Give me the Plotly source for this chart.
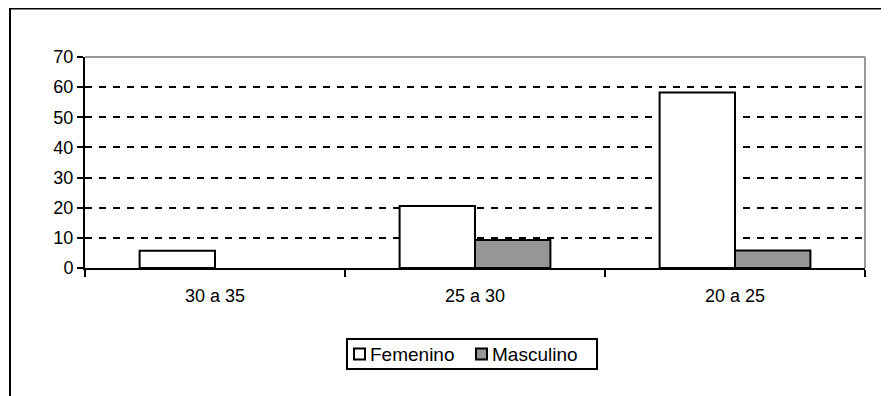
import plotly.graph_objects as go

categories = ["30 a 35", "25 a 30", "20 a 25"]
femenino = [5.7, 20.6, 58.2]
masculino = [0, 9.3, 5.8]
y_ticks = [0, 10, 20, 30, 40, 50, 60, 70]
series_names = ["Femenino", "Masculino"]
series_colors = ["white", "#969696"]

# page has an 8px body margin: work in reference page pixels, convert to figure pixels
OFF = 8
W, H = 889 - OFF, 396 - OFF
PL, PR, PT, PB = 85, 865, 57, 268  # plot area in page pixels
L, R, T, B = PL - OFF, W - (PR - OFF), PT - OFF, H - (PB - OFF)
pw, ph = PR - PL, PB - PT


def px_x(x):
    return (x - PL) / pw


def px_y(y):
    return (PB - y) / ph


fig = go.Figure()
fig.add_trace(go.Bar(name=series_names[0], x=categories, y=femenino, showlegend=False,
                     marker=dict(color=series_colors[0], line=dict(color="black", width=2))))
fig.add_trace(go.Bar(name=series_names[1], x=categories, y=masculino, showlegend=False,
                     marker=dict(color=series_colors[1],
                                 line=dict(color="black",
                                           width=[2 if v > 0 else 0 for v in masculino]))))

FAM = "Liberation Sans, Arial, sans-serif"
font = dict(family=FAM, size=18, color="black")
lfont = dict(family=FAM, size=19, color="black")

shapes = [
    # plot area top/right gray border
    dict(type="line", xref="paper", yref="paper", x0=0, x1=1, y0=1, y1=1,
         line=dict(color="#999999", width=2)),
    dict(type="line", xref="paper", yref="paper", x0=1, x1=1, y0=0, y1=1,
         line=dict(color="#999999", width=2)),
    # outer chart border
    dict(type="line", xref="paper", yref="paper", x0=px_x(10), x1=px_x(892),
         y0=px_y(8.5), y1=px_y(8.5), line=dict(color="black", width=2)),
    dict(type="line", xref="paper", yref="paper", x0=px_x(10), x1=px_x(10),
         y0=px_y(8), y1=px_y(400), line=dict(color="black", width=2)),
    dict(type="line", xref="paper", yref="paper", x0=px_x(884), x1=px_x(884),
         y0=px_y(8), y1=px_y(338), line=dict(color="black", width=2)),
    # legend box
    dict(type="rect", xref="paper", yref="paper", x0=px_x(347), x1=px_x(597),
         y0=px_y(339), y1=px_y(369), line=dict(color="black", width=2), fillcolor="white"),
    # legend swatches
    dict(type="rect", xref="paper", yref="paper", x0=px_x(354), x1=px_x(365),
         y0=px_y(348.5), y1=px_y(359.5), line=dict(color="black", width=2),
         fillcolor=series_colors[0]),
    dict(type="rect", xref="paper", yref="paper", x0=px_x(476), x1=px_x(487),
         y0=px_y(348.5), y1=px_y(359.5), line=dict(color="black", width=2),
         fillcolor=series_colors[1]),
]

annotations = [
    dict(text=series_names[0], xref="paper", yref="paper", x=px_x(368), y=px_y(354),
         xanchor="left", yanchor="middle", showarrow=False, font=lfont),
    dict(text=series_names[1], xref="paper", yref="paper", x=px_x(490), y=px_y(354),
         xanchor="left", yanchor="middle", showarrow=False, font=lfont),
]

fig.update_layout(
    width=W, height=H,
    margin=dict(l=L, r=R, t=T, b=B, autoexpand=False),
    paper_bgcolor="white", plot_bgcolor="white",
    barmode="group", bargap=0.42, bargroupgap=0,
    font=font,
    showlegend=False,
    xaxis=dict(showline=True, linecolor="black", linewidth=2, ticks="outside",
               tickson="boundaries", ticklen=7, tickwidth=2, tickcolor="black",
               ticklabelstandoff=10, showgrid=False, tickfont=font),
    yaxis=dict(range=[0, 70], tickvals=y_ticks, showline=True, linecolor="black",
               linewidth=2, ticks="outside", ticklen=6, tickwidth=2, tickcolor="black",
               showgrid=True, gridcolor="black", gridwidth=2, griddash="7px,7px",
               zeroline=False, tickfont=font),
    shapes=shapes,
    annotations=annotations,
)

fig.write_html("out.html")
